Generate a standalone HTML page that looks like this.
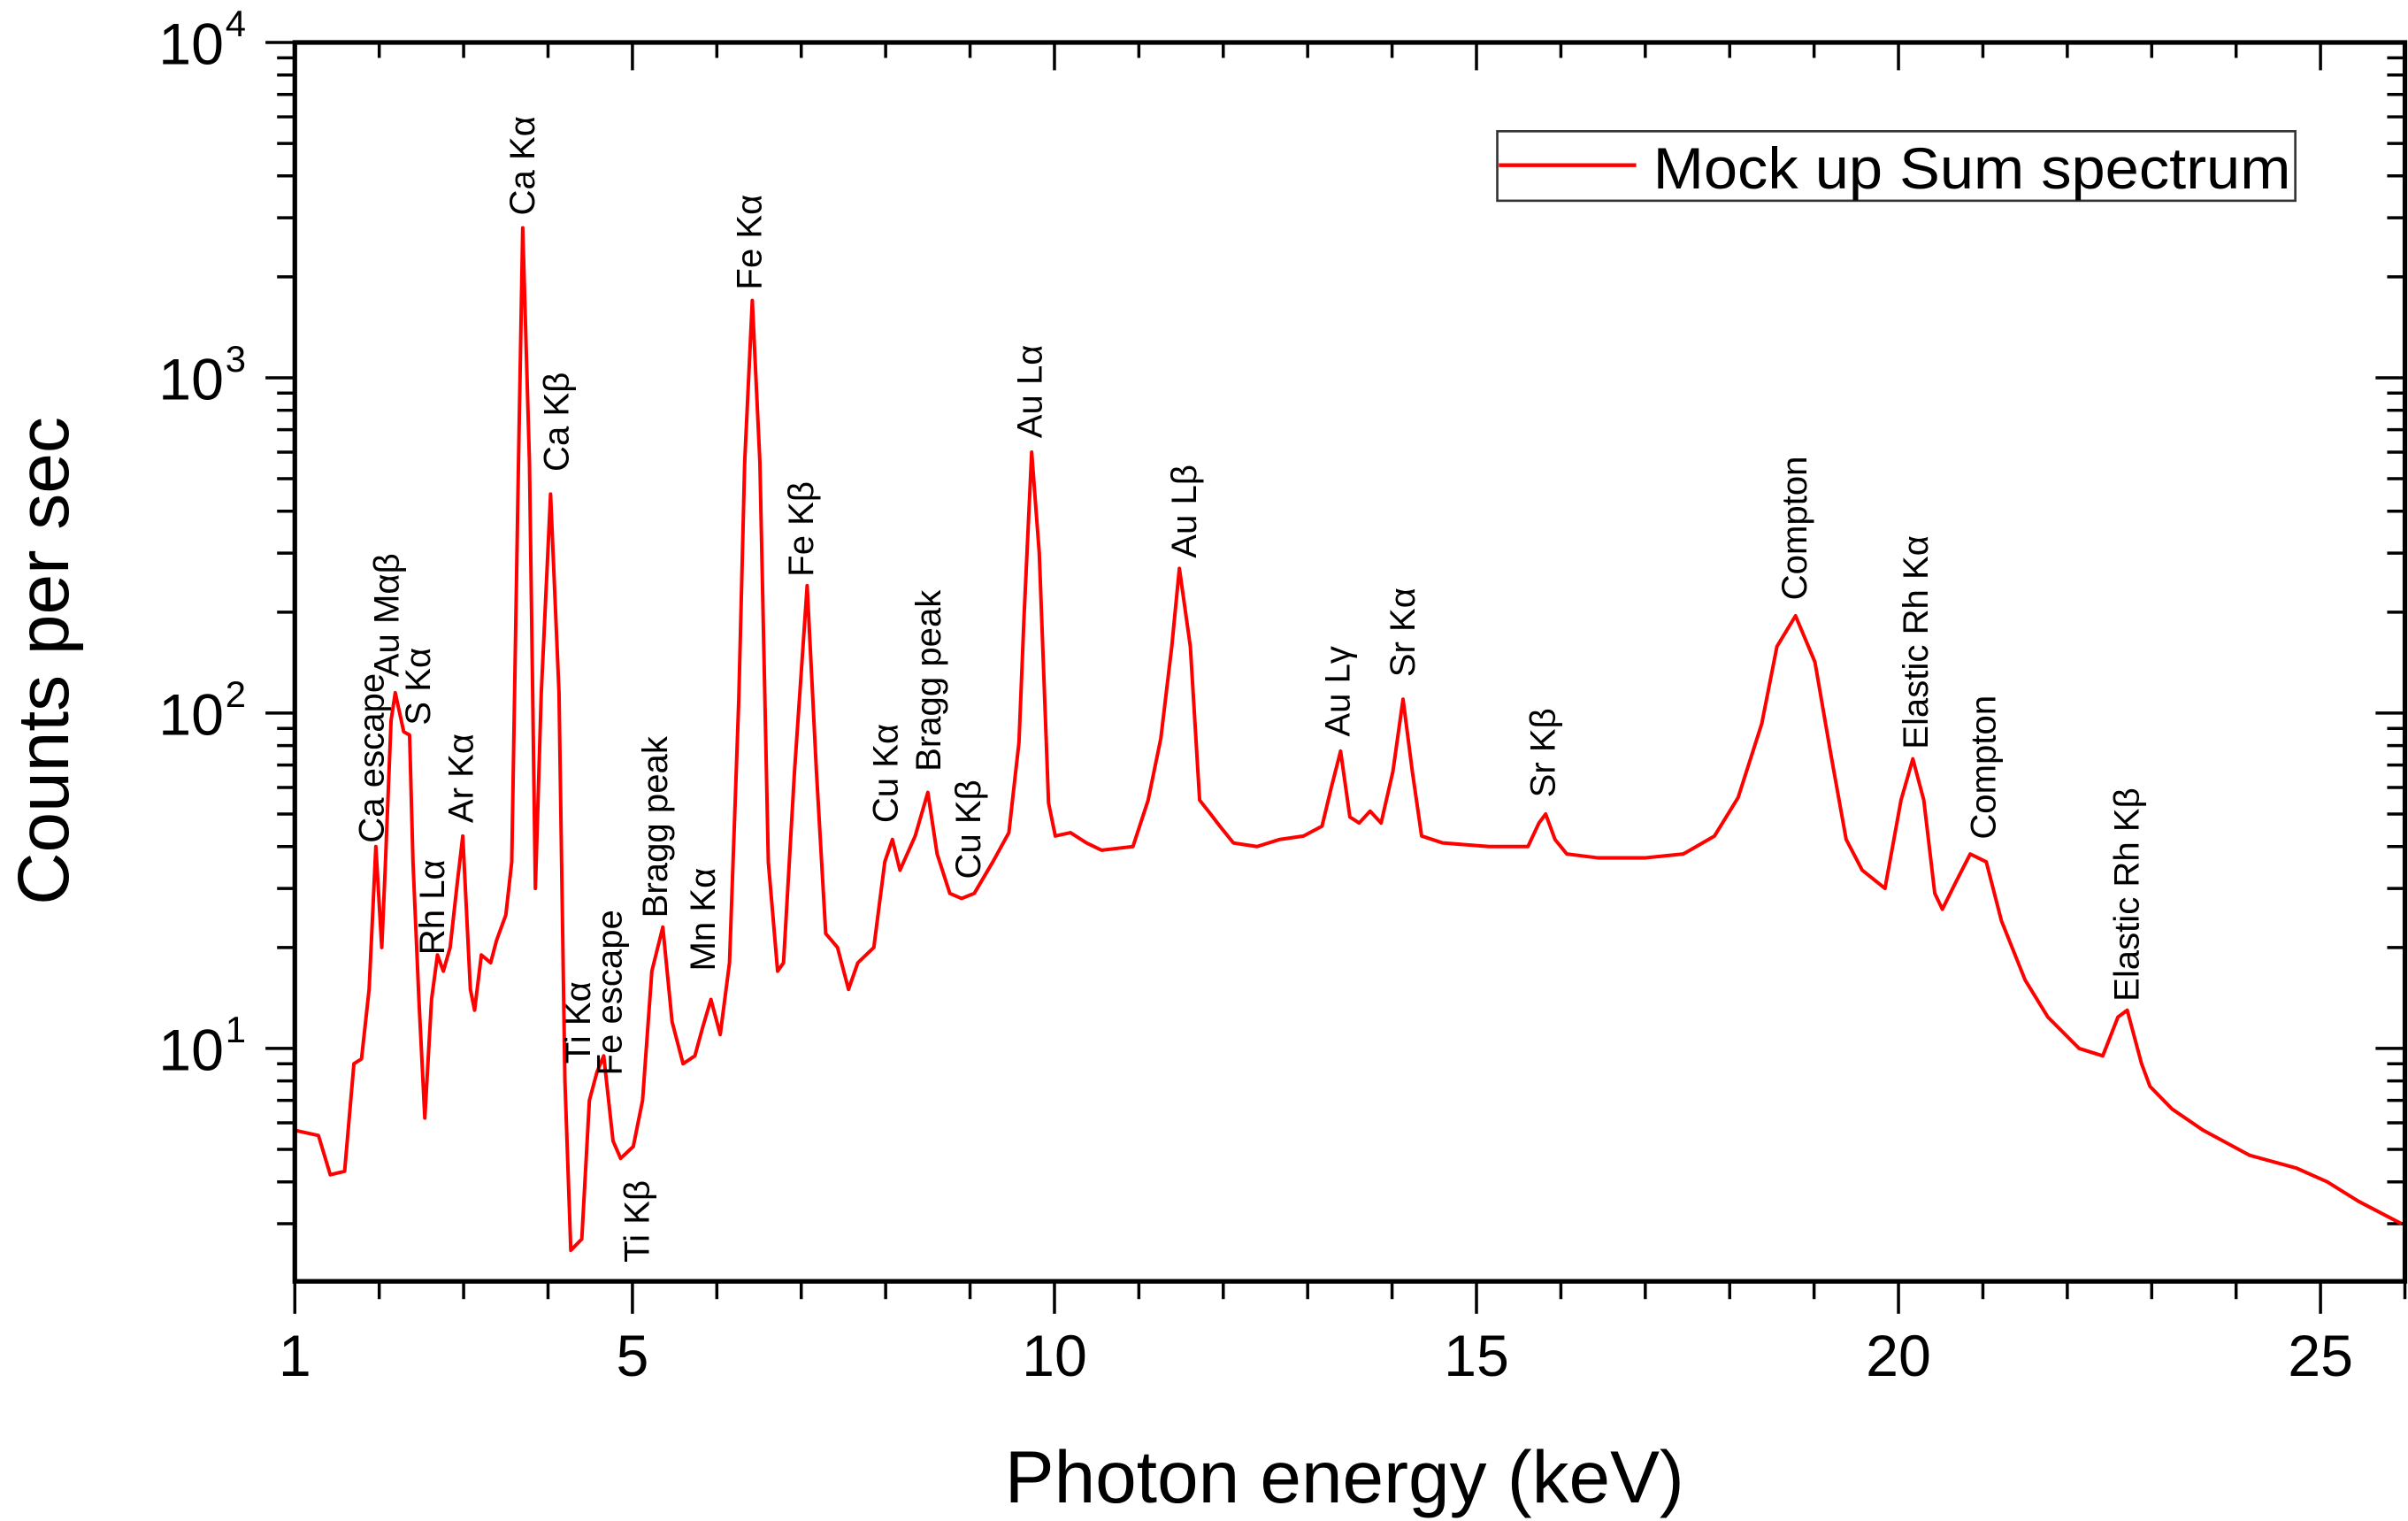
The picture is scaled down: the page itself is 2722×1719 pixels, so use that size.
<!DOCTYPE html>
<html><head><meta charset="utf-8"><style>
html,body{margin:0;padding:0;background:#fff;}
svg{display:block;}
text{font-family:"Liberation Sans",Arial,sans-serif;fill:#000;}
</style></head><body>
<svg id="chart" width="2722" height="1719" viewBox="0 0 1560 985" preserveAspectRatio="none" xmlns="http://www.w3.org/2000/svg">
<g id="ticks"></g>
<path id="series" fill="none" stroke="#ff0000" stroke-width="2.3" stroke-linejoin="round"></path>
<rect x="191" y="27.5" width="1367" height="802.3" fill="none" stroke="#000" stroke-width="3"></rect>
<g id="labels"></g>
<g id="ticklabels"></g>
<text x="871" y="973" font-size="48" text-anchor="middle">Photon energy (keV)</text>
<text transform="translate(44,428) rotate(-90)" font-size="47" text-anchor="middle">Counts per sec</text>
<g>
<rect x="970" y="85" width="517" height="45" fill="#fff" stroke="#333" stroke-width="1.5"></rect>
<line x1="971" y1="107" x2="1060" y2="107" stroke="#ff0000" stroke-width="2.5"></line>
<text x="1071" y="122" font-size="38" textLength="413" lengthAdjust="spacingAndGlyphs">Mock up Sum spectrum</text>
</g>
</svg>
<script>
const energies=[1.00,1.28,1.42,1.59,1.70,1.79,1.88,1.96,2.03,2.07,2.14,2.19,2.29,2.36,2.40,2.47,2.54,2.62,2.69,2.76,2.84,2.93,2.99,3.08,3.13,3.21,3.32,3.39,3.50,3.57,3.65,3.70,3.78,3.85,3.92,4.03,4.13,4.20,4.27,4.40,4.49,4.58,4.66,4.77,4.86,5.01,5.12,5.23,5.36,5.47,5.60,5.74,5.83,5.93,6.04,6.15,6.26,6.33,6.42,6.51,6.61,6.72,6.79,6.92,7.07,7.18,7.29,7.43,7.56,7.67,7.86,7.99,8.08,8.17,8.35,8.50,8.61,8.76,8.90,9.05,9.27,9.46,9.58,9.64,9.73,9.82,9.93,10.01,10.19,10.38,10.56,10.93,11.11,11.26,11.39,11.48,11.61,11.72,11.85,11.96,12.12,12.40,12.67,12.95,13.17,13.28,13.39,13.50,13.61,13.74,13.87,14.01,14.13,14.24,14.35,14.60,15.15,15.61,15.74,15.82,15.93,16.07,16.44,16.99,17.45,17.82,18.10,18.38,18.56,18.78,19.01,19.20,19.38,19.57,19.84,20.03,20.17,20.30,20.43,20.52,20.67,20.85,21.04,21.22,21.50,21.77,22.14,22.42,22.60,22.71,22.88,22.98,23.24,23.61,24.16,24.71,25.08,25.45,25.96];
const counts=[5.7,5.5,4.2,4.3,9,9.3,15,40,20,34,95,115,88,86,36,14,6.2,14,19,17,20,32,43,15,13,19,18,21,25,36,560,2800,560,30,115,450,115,8,2.5,2.7,7,8.5,9.5,5.3,4.7,5.1,7,17,23,12,9,9.5,11.5,14,11,18,110,560,1700,560,36,17,18,67,240,67,22,20,15,18,20,36,42,34,43,58,38,29,28,29,36,44,82,195,600,300,54,43,44,41,39,40,55,84,158,270,158,55,50,46,41,40,42,43,46,60,77,49,47,51,47,67,110,67,43,41,40,40,47,50,42,38,37,37,38,43,56,93,158,195,142,75,42,34,30,55,73,55,29,26,31,38,36,24,16,12.4,10,9.5,12.4,13,9,7.7,6.6,5.7,4.8,4.4,4.0,3.5,3.0];
const xTickValues=[1,5,10,15,20,25];
const xTickLabels=["1","5","10","15","20","25"];
const yDecades=[1,2,3,4];
const peakNames=["Ca escape","Au Mαβ","S Kα","Rh Lα","Ar Kα","Ca Kα","Ca Kβ","Ti Kα","Fe escape","Ti Kβ","Bragg peak","Mn Kα","Fe Kα","Fe Kβ","Cu Kα","Bragg peak","Cu Kβ","Au Lα","Au Lβ","Au Lγ","Sr Kα","Sr Kβ","Compton","Elastic Rh Kα","Compton","Elastic Rh Kβ"];
const peakEnergies=[1.92,2.10,2.47,2.64,2.98,3.71,4.11,4.37,4.74,5.07,5.28,5.85,6.40,7.01,8.01,8.52,8.99,9.72,11.55,13.37,14.14,15.80,18.78,20.22,21.02,22.72];
const peakLabelCounts=[41,128,92,19,47,3050,525,9,8.3,2.3,24.5,17,1830,255,47,67,32,660,290,85,128,56,217,78,42,13.8];

const NS="http://www.w3.org/2000/svg";
const X0=191,X1=1558,Y0=829.8,Y1=27.5,XMIN=1,XMAX=26,LMIN=Math.log10(2.02),LMAX=4;
function xs(v){return X0+(v-XMIN)/(XMAX-XMIN)*(X1-X0);}
function ys(v){return Y0-(Math.log10(v)-LMIN)/(LMAX-LMIN)*(Y0-Y1);}
function mk(tag,attrs,parent){const e=document.createElementNS(NS,tag);for(const k in attrs)e.setAttribute(k,attrs[k]);parent.appendChild(e);return e;}

let d="";
for(let i=0;i<energies.length;i++){d+=(i?"L":"M")+xs(energies[i]).toFixed(2)+","+ys(counts[i]).toFixed(2);}
document.getElementById('series').setAttribute('d',d);

const tg=document.getElementById('ticks');
for(let k=1;k<=26;k++){
  const x=xs(k);const major=xTickValues.includes(k);
  const t=mk('line',{x1:x,x2:x,y1:Y0,y2:Y0+(major?21:11.5),stroke:'#000','stroke-width':2},tg);
  
  
  const t2=mk('line',{x1:x,x2:x,y1:Y1,y2:Y1+(major?18:10),stroke:'#000','stroke-width':2},tg);
  
  
}
for(let e=0;e<=4;e++){
  for(let m=1;m<=9;m++){
    const v=m*Math.pow(10,e);
    if(v<2.02||v>10000)continue;
    const y=ys(v);const major=m===1;
    const t=mk('line',{x1:X0-(major?19:11.5),x2:X0,y1:y,y2:y,stroke:'#000','stroke-width':2},tg);
    
    
    const t2=mk('line',{x1:X1,x2:X1-(major?19:11.5),y1:y,y2:y,stroke:'#000','stroke-width':2},tg);
    
    
  }
}
const tl=document.getElementById('ticklabels');
xTickValues.forEach((v,i)=>{
  const t=mk('text',{x:xs(v),y:891,'font-size':38,'text-anchor':'middle'},tl);
  t.textContent=xTickLabels[i];
  
  
});
yDecades.forEach(p=>{
  const y=ys(Math.pow(10,p));
  const t=mk('text',{x:145,y:y+14,'font-size':38,'text-anchor':'end'},tl);
  t.textContent="10";
  
  
  const s=mk('text',{x:146,y:y-4,'font-size':24},tl);
  s.textContent=String(p);
  
  
});
const lg=document.getElementById('labels');
peakNames.forEach((n,i)=>{
  const x=xs(peakEnergies[i])+7,y=ys(peakLabelCounts[i]);
  const t=mk('text',{transform:`translate(${x.toFixed(1)},${y.toFixed(1)}) rotate(-90)`,'font-size':23},lg);
  t.textContent=n;
  
  
});
</script>
</body></html>
